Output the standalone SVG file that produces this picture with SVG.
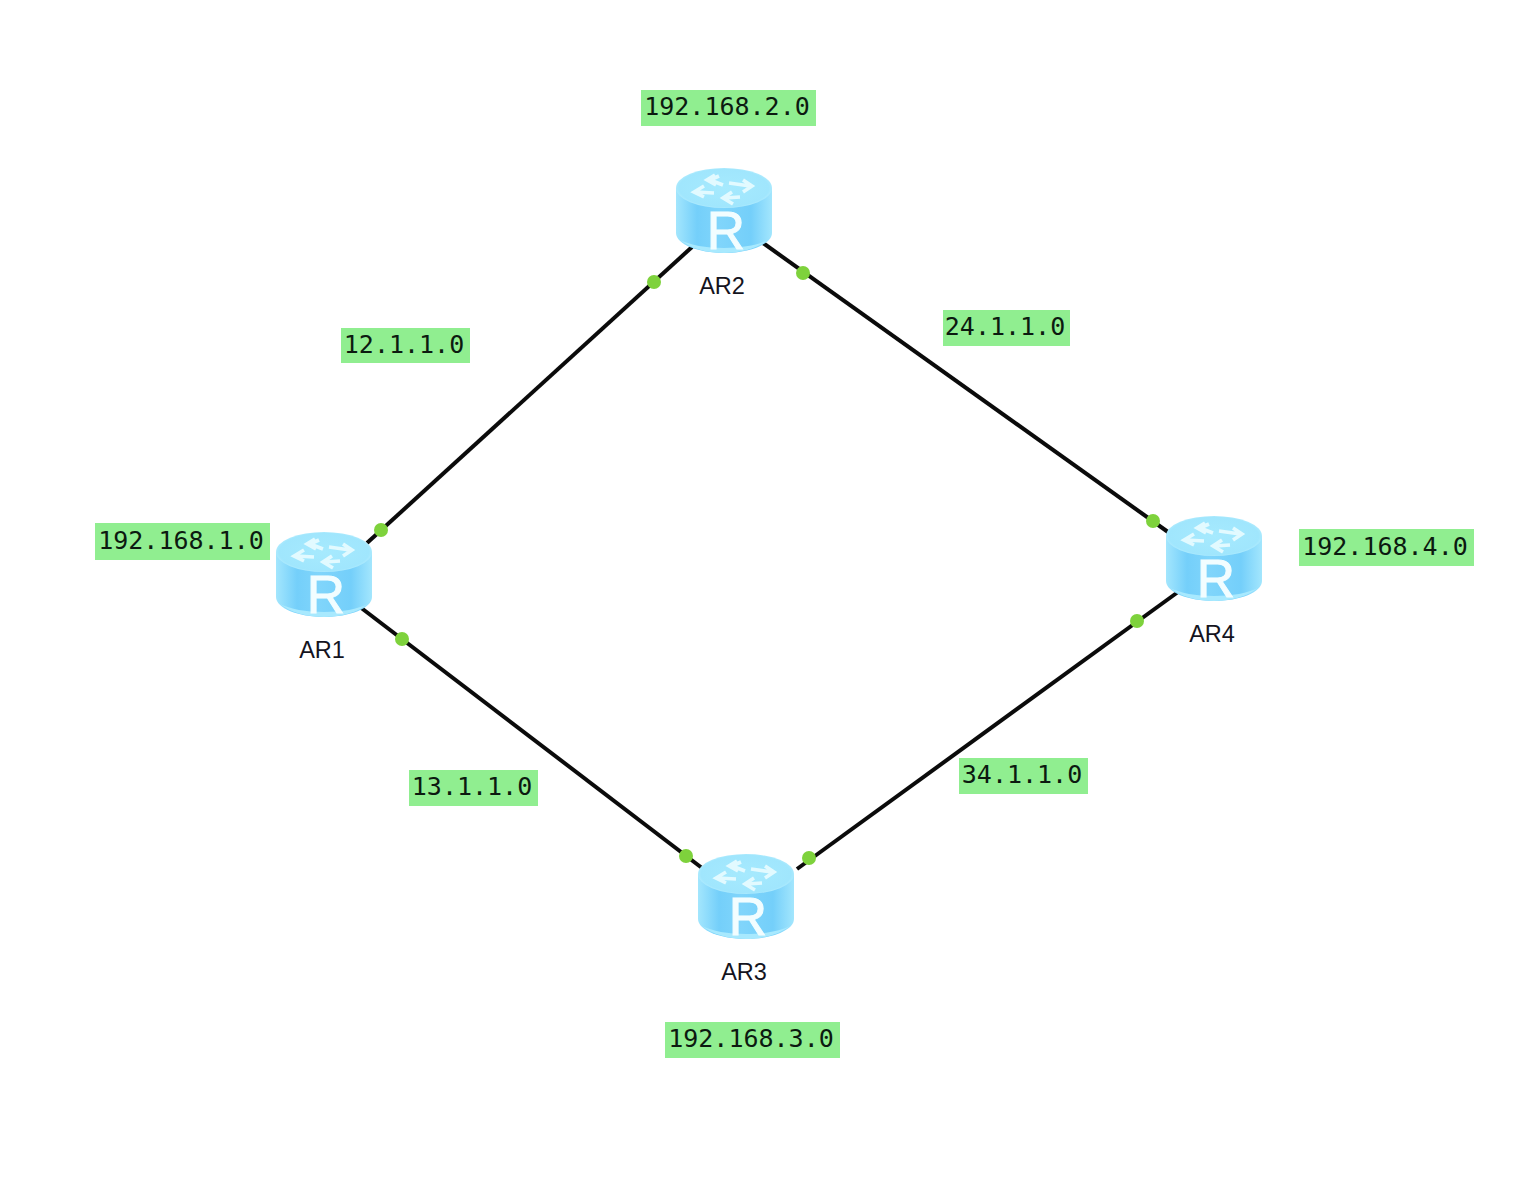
<svg xmlns="http://www.w3.org/2000/svg" width="1530" height="1190" viewBox="0 0 1530 1190">
<style>
.link{stroke:#0b0b0b;stroke-width:4;fill:none}
.port{fill:#7ed23c}
.tag{fill:#90ee90}
.tagt{font-family:"DejaVu Sans Mono",monospace;font-size:25px;fill:#0c1a10;text-anchor:middle}
.name{font-family:"Liberation Sans",Arial,sans-serif;font-size:23.5px;fill:#14141e;text-anchor:middle}
.r{font-family:"Liberation Sans",Arial,sans-serif;font-size:53px;fill:#f2fdff;stroke:#f2fdff;stroke-width:1;text-anchor:middle}
.ar{fill:none;stroke:#e2faff;stroke-width:3.6;stroke-linejoin:miter}
</style>
<defs>
<linearGradient id="body" x1="0" x2="1" y1="0" y2="0">
<stop offset="0" stop-color="#a3e6fd"/><stop offset="0.22" stop-color="#74cffa"/><stop offset="0.45" stop-color="#80d5fb"/><stop offset="0.78" stop-color="#74cffa"/><stop offset="1" stop-color="#a3e6fd"/>
</linearGradient>
<radialGradient id="top" cx="0.5" cy="0.5" r="0.55">
<stop offset="0" stop-color="#a6eafe"/><stop offset="0.85" stop-color="#a0e6fd"/><stop offset="1" stop-color="#bff0fe"/>
</radialGradient>
<g id="router">
<path d="M-48 20V65C-48 76-26 85 0 85S48 76 48 65V20Z" fill="url(#body)"/>
<path d="M-44 72C-34 80-18 85 0 85S34 80 44 72C34 77 18 80 0 80S-34 77-44 72Z" fill="#a8e9fe"/>
<ellipse cx="0" cy="20" rx="48" ry="20" fill="url(#top)"/>
<path class="ar" d="M-1 17L-14 12M-9 7L-17 12L-8 17M-14 12L-5 8M5 15L26 18M19 12L28 18L19 24M-10 25L-28 24M-20 18L-30 24L-20 29M16 29L1 30M8 24L-1 30L9 36"/>
<text class="r" x="2" y="81">R</text>
</g>
</defs>
<rect width="1530" height="1190" fill="#fff"/>
<g id="connectors">
<line class="link" x1="692" y1="247" x2="367" y2="543"/>
<line class="link" x1="763" y1="243" x2="1168" y2="532"/>
<line class="link" x1="360" y1="607" x2="702" y2="868"/>
<line class="link" x1="797" y1="869" x2="1178" y2="592"/>
<circle class="port" cx="654" cy="282" r="7"/><circle class="port" cx="381" cy="530" r="7"/>
<circle class="port" cx="803" cy="273" r="7"/><circle class="port" cx="1153" cy="521" r="7"/>
<circle class="port" cx="402" cy="639" r="7"/><circle class="port" cx="686" cy="856" r="7"/>
<circle class="port" cx="809" cy="858" r="7"/><circle class="port" cx="1137" cy="621" r="7"/>
</g>
<g id="AR1"><use href="#router" x="324" y="532"/><text class="name" x="322" y="658">AR1</text></g>
<g id="AR2"><use href="#router" x="724" y="168"/><text class="name" x="722" y="294">AR2</text></g>
<g id="AR3"><use href="#router" x="746" y="854"/><text class="name" x="744" y="980">AR3</text></g>
<g id="AR4"><use href="#router" x="1214" y="516"/><text class="name" x="1212" y="642">AR4</text></g>
<g id="net-192-168-2"><rect class="tag" x="641" y="90" width="175" height="36"/><text class="tagt" x="727" y="115">192.168.2.0</text></g>
<g id="net-12"><rect class="tag" x="341" y="328" width="129" height="35"/><text class="tagt" x="404" y="353">12.1.1.0</text></g>
<g id="net-24"><rect class="tag" x="943" y="310" width="127" height="36"/><text class="tagt" x="1005" y="335">24.1.1.0</text></g>
<g id="net-192-168-1"><rect class="tag" x="95" y="523" width="175" height="37"/><text class="tagt" x="181" y="549">192.168.1.0</text></g>
<g id="net-192-168-4"><rect class="tag" x="1299" y="529" width="175" height="37"/><text class="tagt" x="1385" y="555">192.168.4.0</text></g>
<g id="net-13"><rect class="tag" x="409" y="770" width="129" height="36"/><text class="tagt" x="472" y="795">13.1.1.0</text></g>
<g id="net-34"><rect class="tag" x="959" y="758" width="129" height="36"/><text class="tagt" x="1022" y="783">34.1.1.0</text></g>
<g id="net-192-168-3"><rect class="tag" x="665" y="1022" width="175" height="36"/><text class="tagt" x="751" y="1047">192.168.3.0</text></g>
</svg>
